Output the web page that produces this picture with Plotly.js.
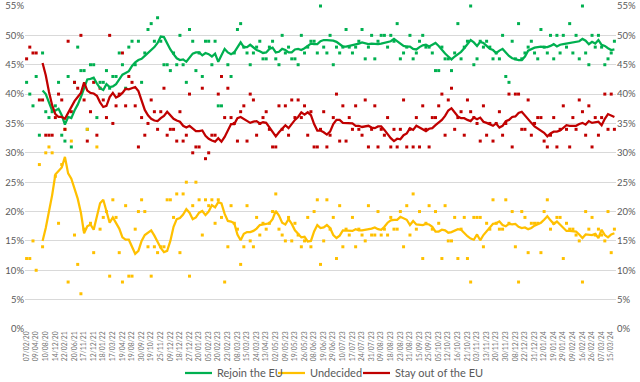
<!DOCTYPE html>
<html>
<head>
<meta charset="utf-8">
<script src="https://cdn.plot.ly/plotly-3.0.1.min.js"></script>
<style>html,body{margin:0;padding:0;background:#fff;}#chart{width:640px;height:382px;}</style>
</head>
<body>
<div id="chart"></div>
<script>
const dateLabels = ["07/02/20","09/04/20","10/08/20","14/12/20","22/02/21","20/06/21","17/11/21","12/12/21","18/01/22","17/03/22","19/04/22","19/08/22","30/09/22","19/10/22","25/11/22","09/12/22","18/12/22","27/12/22","20/01/23","05/02/23","20/02/23","23/02/23","08/03/23","15/03/23","24/03/23","13/04/23","02/05/23","09/05/23","19/05/23","26/05/23","08/06/23","19/06/23","29/06/23","10/07/23","17/07/23","24/07/23","31/07/23","09/08/23","18/08/23","23/08/23","31/08/23","15/09/23","25/09/23","05/10/23","12/10/23","16/10/23","21/10/23","03/11/23","13/11/23","20/11/23","30/11/23","08/12/23","22/12/23","31/12/23","12/01/24","19/01/24","29/01/24","09/02/24","16/02/24","26/02/24","07/03/24","15/03/24"];

const seriesNames = ["Rejoin the EU", "Undecided", "Stay out of the EU"];

const rejoin = [42,40,38,43,33,47,37,36,37,38,
42,33,32,43,31,42,48,44,44,34,
45,45,36,42,42,44,41,43,43,47,
45,41,48,49,45,49,42,47,51,52,
49,53,49,45,45,44,47,45,50,45,
42,51,49,44,47,43,49,49,45,49,
38,38,56,45,43,47,51,52,48,47,
45,47,48,49,46,46,48,49,46,45,
50,47,48,46,46,45,50,47,48,49,
49,47,55,48,47,50,45,48,47,48,
51,48,47,48,49,51,46,48,50,46,
49,50,50,48,50,49,52,46,47,48,
50,46,47,49,50,48,48,47,44,44,
48,46,46,44,47,52,46,48,49,55,
45,46,49,48,49,48,46,47,46,50,
43,42,49,46,52,46,47,48,49,47,
46,51,48,47,50,46,50,47,50,48,
52,47,50,46,55,47,45,50,48,50,
48,45,46,47,49];

const stay = [46,48,47,47,39,39,33,33,33,36,
40,39,34,49,37,42,41,50,39,32,
37,42,33,41,39,36,50,35,38,40,
47,38,43,42,38,31,36,33,35,39,
37,34,37,41,33,34,34,32,37,32,
33,40,30,31,31,41,29,30,33,33,
40,43,36,41,36,35,32,37,38,32,
40,39,33,35,36,37,34,31,31,38,
34,38,33,39,36,39,36,38,33,37,
31,31,34,37,31,33,36,40,32,38,
32,36,34,38,34,33,39,31,34,38,
31,34,33,36,31,34,31,34,39,31,
34,31,36,31,38,34,31,36,36,38,
40,33,39,41,34,36,37,33,39,37,
36,35,32,38,33,35,32,35,37,33,
35,40,31,40,40,34,34,39,33,35,
36,36,32,31,33,36,31,34,38,34,
31,36,34,39,37,33,38,31,36,33,
36,40,34,40,34];

const undecided = [12,12,15,10,28,14,30,31,30,26,
18,28,34,8,32,16,11,6,17,34,
18,13,31,17,19,20,9,22,19,13,
8,21,9,9,17,20,22,20,14,9,
14,13,14,14,22,22,19,23,13,23,
25,9,21,25,22,16,22,21,22,18,
22,19,8,14,21,18,17,11,14,21,
15,14,19,16,18,17,18,20,23,17,
16,15,19,15,18,16,14,15,19,14,
20,22,11,15,22,17,19,12,21,14,
17,16,19,14,17,16,15,21,16,16,
20,16,17,16,19,17,17,20,14,21,
16,23,17,20,12,18,21,17,20,18,
12,21,15,15,19,12,17,19,12,8,
19,19,19,14,18,17,22,18,17,17,
22,18,20,14,8,20,19,13,18,18,
18,13,20,22,17,18,19,19,12,18,
17,17,16,15,8,20,17,19,16,17,
16,15,20,13,17];

const rejoinAvg = [null,null,null,null,null,40.6,40.0,38.6,37.2,37.2,
37.5,36.4,34.8,36.1,35.9,37.2,38.2,39.5,41.1,42.5,
42.6,42.8,41.8,41.0,40.7,41.7,41.2,41.3,41.7,42.6,
43.3,43.6,43.9,44.8,45.4,45.8,46.0,46.5,47.0,47.4,
48.0,48.7,49.8,49.7,48.6,47.6,46.8,46.1,45.8,45.9,
45.5,46.3,46.9,47.1,47.1,46.6,47.0,46.8,46.4,46.9,
45.5,46.6,47.7,47.1,46.8,47.1,48.0,48.8,48.0,48.0,
48.4,48.0,47.5,47.3,47.0,47.1,47.7,47.9,47.1,47.2,
47.7,47.5,47.1,47.1,47.6,47.7,47.5,47.8,48.2,48.6,
48.5,48.5,49.0,49.2,49.2,49.2,49.1,48.9,48.5,48.1,
48.1,48.2,48.3,48.4,48.6,48.8,48.6,48.5,48.6,48.5,
48.5,48.6,48.7,48.8,49.0,49.4,49.0,48.6,48.2,48.1,
48.1,47.7,47.6,48.0,48.3,48.4,48.1,48.4,48.7,48.2,
47.5,46.9,46.4,45.9,46.4,46.8,47.2,47.8,48.6,49.2,
48.8,48.2,48.9,48.7,48.2,47.7,47.5,47.0,47.4,47.7,
47.1,46.5,46.1,45.9,45.8,45.8,46.4,47.4,47.7,47.9,
48.0,48.1,48.0,48.0,48.2,48.5,48.1,48.4,48.5,48.6,
48.7,48.8,48.8,49.0,49.4,49.1,48.5,48.9,48.6,49.2,
48.4,48.2,47.8,47.5,47.6];

const stayAvg = [null,null,null,null,null,45.3,43.2,40.4,38.1,36.6,
36.1,36.1,35.8,36.8,37.8,38.8,39.5,40.2,42.0,40.6,
40.2,40.1,39.7,38.6,37.8,38.0,39.5,40.2,39.4,39.7,
40.2,40.9,40.8,41.0,41.2,40.5,38.9,37.3,36.4,35.8,
35.5,35.4,35.9,36.3,37.0,36.3,35.8,35.5,35.3,34.6,
34.3,34.6,34.1,33.7,33.7,33.8,32.9,32.4,32.1,31.9,
32.5,31.9,32.7,33.9,34.9,34.9,35.9,36.1,35.8,35.5,
35.1,35.3,35.4,35.0,35.2,35.1,34.3,33.4,32.8,33.5,
34.2,34.7,34.2,35.0,35.6,36.1,36.9,36.5,36.9,36.4,
34.9,33.8,33.8,33.5,33.1,33.6,34.9,35.6,35.6,35.1,
35.1,35.1,35.0,34.6,34.6,34.4,34.5,34.6,34.3,34.2,
34.5,34.5,33.9,33.1,32.5,32.0,32.4,32.3,33.0,33.3,
34.2,33.9,34.6,34.3,34.0,33.7,34.1,34.2,34.7,35.2,
35.6,36.3,37.2,37.6,36.9,36.2,35.9,35.9,35.6,35.4,
36.0,35.7,36.0,35.3,35.1,34.9,34.6,35.0,34.3,34.6,
35.4,35.6,36.1,36.2,36.8,37.0,36.3,35.6,35.1,34.5,
34.1,33.8,33.4,32.8,33.3,33.6,33.6,33.8,34.3,34.7,
34.6,34.6,34.6,34.9,35.1,34.8,35.4,35.1,35.2,35.3,
34.7,35.8,36.6,36.4,36.1];

const undecidedAvg = [null,null,null,null,null,15.0,17.2,20.0,22.8,26.3,
27.0,27.5,29.3,26.5,25.6,23.7,22.2,19.8,16.3,17.5,
17.8,16.9,19.2,21.4,22.0,19.8,18.1,19.0,18.1,17.1,
15.6,15.2,15.2,14.0,12.8,13.3,15.0,16.0,16.4,16.8,
15.9,14.9,13.8,13.1,13.3,15.0,17.4,18.7,18.9,19.5,
20.4,19.8,18.7,19.0,19.8,20.1,19.4,20.0,21.1,20.7,
21.6,21.4,19.6,18.4,18.3,18.0,16.1,15.1,16.2,16.5,
16.5,16.7,17.1,17.7,17.8,17.8,18.0,18.7,20.1,19.3,
18.1,17.8,18.7,17.9,16.8,16.2,15.6,15.7,14.9,15.0,
16.6,17.7,17.2,17.3,17.7,17.2,16.0,15.5,15.9,16.8,
16.8,16.7,16.7,17.0,16.8,16.8,16.9,16.9,17.1,17.3,
17.0,16.9,17.4,18.1,18.5,18.6,18.6,19.1,18.8,18.6,
17.7,18.4,17.8,17.7,17.7,17.9,17.8,17.4,16.6,16.6,
16.9,16.8,16.4,16.5,16.7,17.0,16.9,16.3,15.8,15.4,
15.2,16.1,15.1,16.0,16.7,17.4,17.9,18.0,18.3,17.7,
17.5,17.9,17.8,17.9,17.4,17.2,17.3,17.0,17.2,17.6,
17.9,18.1,18.6,19.2,18.5,17.9,18.3,17.8,17.2,16.7,
16.7,16.6,16.6,16.1,15.5,16.1,16.1,16.0,16.2,15.5,
16.9,16.0,15.6,16.1,16.3];

const GREEN = '#00B050', GOLD = '#FFC000', RED = '#C00000';
const seriesColors = [GREEN, GOLD, RED];
const xs = rejoin.map((_, i) => i);
const tickvals = dateLabels.map((_, j) => j * 3);

function dots(y, color) {
  return {x: xs, y: y, type: 'scatter', mode: 'markers', showlegend: false, hoverinfo: 'skip',
          cliponaxis: false, marker: {symbol: 'square', size: 3, color: color, line: {width: 0}}};
}
function avg(y, color, name) {
  return {x: xs, y: y, type: 'scatter', mode: 'lines', name: name, connectgaps: false, showlegend: false,
          line: {color: color, width: 2.25}};
}

const traces = [
  dots(rejoin, GREEN), dots(undecided, GOLD), dots(stay, RED),
  avg(rejoinAvg, GREEN, seriesNames[0]),
  avg(undecidedAvg, GOLD, seriesNames[1]),
  avg(stayAvg, RED, seriesNames[2]),
  {x: [0], y: [0], yaxis: 'y2', type: 'scatter', mode: 'markers', showlegend: false,
   hoverinfo: 'skip', marker: {opacity: 0}}
];

// legend drawn as shapes + annotations below the plot (paper coordinates)
const legendX = [0.2707, 0.4281, 0.5719];
const legendY = -0.1362;
const sampleW = 0.0457;
const shapes = legendX.map((x0, k) => ({type: 'line', xref: 'paper', yref: 'paper',
  x0: x0, x1: x0 + sampleW, y0: legendY, y1: legendY, line: {color: seriesColors[k], width: 2.25}}));
const annotations = legendX.map((x0, k) => ({xref: 'paper', yref: 'paper', x: x0 + sampleW + 0.005, y: legendY,
  xanchor: 'left', yanchor: 'middle', showarrow: false, text: seriesNames[k],
  font: {family: 'Lato, "Liberation Sans", sans-serif', size: 11, color: '#595959'}}));

const tickFont = {family: 'Lato, "Liberation Sans", sans-serif', size: 9.5, color: '#595959'};
const layout = {
  width: 640, height: 382,
  margin: {l: 25, r: 24, t: 6, b: 53, autoexpand: false},
  paper_bgcolor: '#ffffff', plot_bgcolor: '#ffffff',
  font: {family: 'Lato, "Liberation Sans", sans-serif', color: '#595959'},
  showlegend: false,
  shapes: shapes,
  annotations: annotations,
  xaxis: {range: [-0.5, xs.length - 0.5], tickmode: 'array', tickvals: tickvals, ticktext: dateLabels,
          tickangle: -90, tickfont: {family: 'Lato, "Liberation Sans", sans-serif', size: 6.8, color: '#6f6f6f'},
          showgrid: false, zeroline: false, showline: false, ticks: '', automargin: false},
  yaxis: {range: [0, 55], dtick: 5, tick0: 0, ticksuffix: '%', gridcolor: '#d9d9d9', gridwidth: 1,
          zeroline: false, showline: false, ticks: '', tickfont: tickFont, automargin: false},
  yaxis2: {range: [0, 55], dtick: 5, tick0: 0, ticksuffix: '%', overlaying: 'y', side: 'right',
           showgrid: false, zeroline: false, showline: false, ticks: '', tickfont: tickFont, automargin: false}
};

Plotly.newPlot('chart', traces, layout, {displayModeBar: false, staticPlot: true});
</script>
</body>
</html>
